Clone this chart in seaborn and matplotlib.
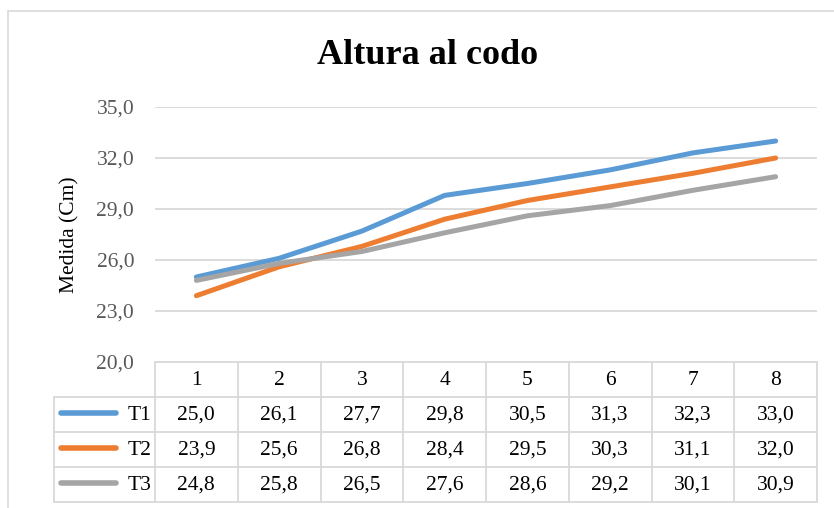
import numpy as np
import pandas as pd
import seaborn as sns
import matplotlib.pyplot as plt
from matplotlib.lines import Line2D

# data
categories = [1, 2, 3, 4, 5, 6, 7, 8]
t1 = [25.0, 26.1, 27.7, 29.8, 30.5, 31.3, 32.3, 33.0]
t2 = [23.9, 25.6, 26.8, 28.4, 29.5, 30.3, 31.1, 32.0]
t3 = [24.8, 25.8, 26.5, 27.6, 28.6, 29.2, 30.1, 30.9]
series_names = ["T1", "T2", "T3"]
colors = ["#5B9BD5", "#ED7D31", "#A5A5A5"]
y_ticks = [20, 23, 26, 29, 32, 35]

df = pd.DataFrame({"x": categories, "T1": t1, "T2": t2, "T3": t3})
long = df.melt(id_vars="x", var_name="serie", value_name="medida")

sns.set_theme(style="white")
plt.rcParams["font.family"] = ["Liberation Serif", "DejaVu Serif"]
plt.rcParams["text.color"] = "black"

W, H = 834, 508
fig = plt.figure(figsize=(W / 100, H / 100), dpi=100)
grid_c = "#D9D9D9"
fs = 15.5

# chart border
fig.add_artist(Line2D([8 / W, 8 / W], [0, 1 - 11 / H], color=grid_c, lw=1.2))
fig.add_artist(Line2D([8 / W, 1], [1 - 11 / H, 1 - 11 / H], color=grid_c, lw=1.2))

# main plot
px_l, px_r, px_t, px_b = 155, 817, 107, 362
ax = fig.add_axes([px_l / W, 1 - px_b / H, (px_r - px_l) / W, (px_b - px_t) / H])
sns.lineplot(data=long, x="x", y="medida", hue="serie", palette=colors,
             linewidth=3.6, legend=False, ax=ax, solid_capstyle="round",
             solid_joinstyle="round")
ax.set_xlim(0.5, 8.5)
ax.set_ylim(20, 35)
ax.set_yticks(y_ticks)
ax.set_yticklabels([f"{v:.1f}".replace(".", ",") for v in y_ticks],
                   color="#595959", fontsize=fs)
ax.set_xticks([])
ax.set_xlabel("")
ax.set_ylabel("Medida (Cm)", fontsize=fs, color="black", labelpad=12)
ax.tick_params(axis="y", length=0, pad=15)
for s in ax.spines.values():
    s.set_visible(False)
for v in y_ticks[1:]:
    ax.axhline(v, color=grid_c, lw=1.3, zorder=0)

fig.text(428 / W, 1 - 55 / H, "Altura al codo", fontsize=26, fontweight="bold",
         ha="center", va="center", color="black")

# data table
tb_l, tb_b = 54, 502
tax = fig.add_axes([tb_l / W, 1 - tb_b / H, (px_r - tb_l) / W, (tb_b - px_b) / H])
leg_w = (px_l - tb_l) / ((px_r - px_l) / 8)
tax.set_xlim(0.5 - leg_w, 8.5)
tax.set_ylim(4, 0)
tax.axis("off")
lc = dict(color=grid_c, lw=1.3, clip_on=False)
tax.plot([0.5, 8.5], [0, 0], **lc)
for r in [1, 2, 3, 4]:
    tax.plot([0.5 - leg_w, 8.5], [r, r], **lc)
for c in np.arange(0.5, 9.5, 1):
    tax.plot([c, c], [0, 4], **lc)
tax.plot([0.5 - leg_w, 0.5 - leg_w], [1, 4], **lc)
for i, c in enumerate(categories):
    tax.text(c, 0.52, str(c), ha="center", va="center", fontsize=fs)
for r, (name, vals, col) in enumerate(zip(series_names, [t1, t2, t3], colors), start=1):
    for c, v in zip(categories, vals):
        tax.text(c, r + 0.52, f"{v:.1f}".replace(".", ","), ha="center",
                 va="center", fontsize=fs)
    tax.plot([0.5 - leg_w + 0.09, 0.5 - 0.47], [r + 0.45, r + 0.45], color=col,
             lw=4, solid_capstyle="round", clip_on=False)
    tax.text(0.5 - 0.04, r + 0.52, name, ha="right", va="center", fontsize=fs)

fig.savefig("out.png", dpi=100)
